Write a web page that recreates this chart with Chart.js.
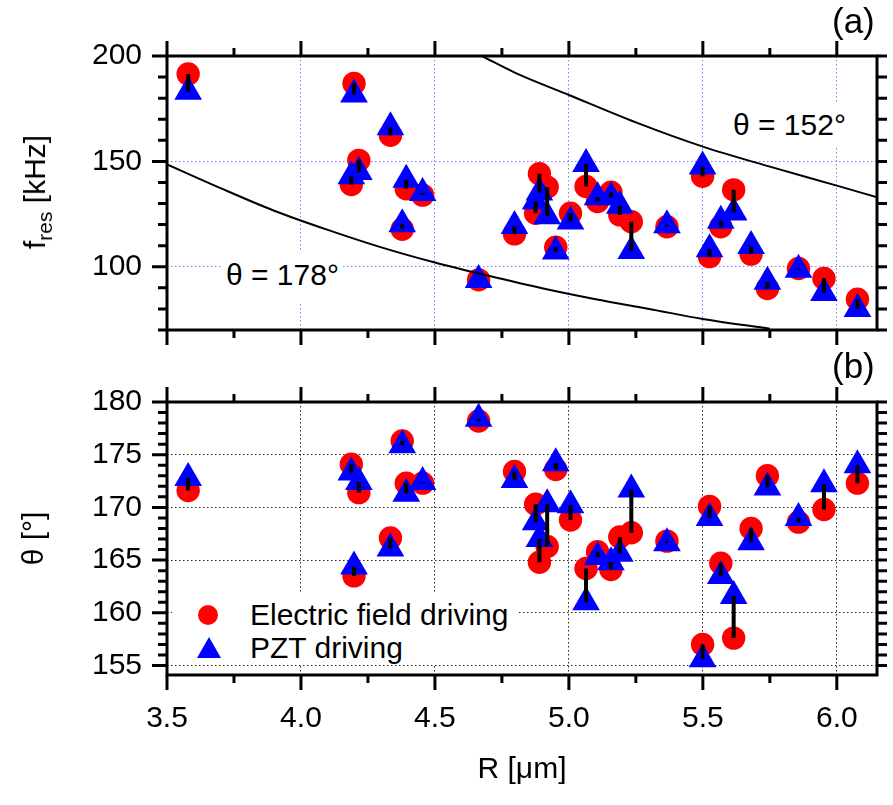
<!DOCTYPE html>
<html>
<head>
<meta charset="utf-8">
<script src="https://cdn.jsdelivr.net/npm/chart.js@4.4.0/dist/chart.umd.min.js"></script>
<style>
  html, body { margin: 0; padding: 0; background: #fff; }
  body { width: 893px; height: 805px; position: relative; overflow: hidden;
         font-family: "Liberation Sans", Arial, sans-serif; color: #000; }
  canvas { position: absolute; left: 0; }
  #chartA { top: 0; }
  #chartB { top: 345px; }
  .lbl { position: absolute; font-size: 30px; line-height: 30px; white-space: nowrap; }
  .box { background: #fff; }
  #ytitleA { left: 35px; top: 192px; transform: translate(-50%, -50%) rotate(-90deg); }
  #ytitleA sub { font-size: 21px; vertical-align: -7px; line-height: 0; }
  #tagA { left: 832px; top: 3px; font-size: 35px; line-height: 35px; }
  #tagB { left: 832px; top: 348px; font-size: 35px; line-height: 35px; }
  #ann178 { left: 222px; top: 252px; padding: 8px 4px 12px 4px; }
  #ann152 { left: 728px; top: 102px; padding: 8px 5px 8px 5px; }
  #legend { position: absolute; left: 172px; top: 592px; width: 345px; height: 73px; background: #fff; }
  #legend .dot { position: absolute; left: 26px; top: 13px; width: 20px; height: 20px; border-radius: 50%; background: #ff0000; }
  #legend .tri { position: absolute; left: 25px; top: 45px; width: 0; height: 0;
                 border-left: 12px solid transparent; border-right: 12px solid transparent; border-bottom: 21px solid #0000ff; }
  #legend .t1 { left: 78px; top: 8px; }
  #legend .t2 { left: 78px; top: 41px; }
</style>
</head>
<body>
<canvas id="chartA" width="893" height="390"></canvas>
<canvas id="chartB" width="893" height="460"></canvas>
<div class="lbl" id="ytitleA">f<sub>res</sub> [kHz]</div>
<div class="lbl" id="tagA">(a)</div>
<div class="lbl" id="tagB">(b)</div>
<div class="lbl box" id="ann178">θ = 178°</div>
<div class="lbl box" id="ann152">θ = 152°</div>
<div id="legend">
  <div class="dot"></div>
  <div class="lbl t1">Electric field driving</div>
  <div class="tri"></div>
  <div class="lbl t2">PZT driving</div>
</div>
<script>
// one entry per sample
const radius = [3.579, 4.188, 4.198, 4.216, 4.334, 4.378, 4.393, 4.454, 4.663, 4.797,
  4.876, 4.890, 4.919, 4.951, 5.006, 5.064, 5.107, 5.157, 5.190, 5.233,
  5.366, 5.499, 5.525, 5.567, 5.615, 5.680, 5.741, 5.857, 5.952, 6.077];
const fElectric = [191.5, 139.0, 187.0, 150.5, 162.4, 117.8, 137.0, 134.0, 93.8, 115.6,
  125.4, 144.1, 137.8, 109.3, 125.4, 138.1, 131.0, 135.4, 124.6, 121.4,
  119.0, 142.9, 104.8, 119.0, 136.5, 106.0, 89.7, 99.2, 94.4, 84.6];
const fPzt = [183.0, 143.0, 181.7, 145.0, 166.2, 120.2, 141.3, 135.0, 93.7, 119.4,
  131.0, 135.2, 124.0, 107.3, 121.5, 148.8, 133.0, 133.0, 129.0, 107.5,
  119.7, 147.6, 108.3, 121.8, 125.7, 109.9, 92.9, 98.6, 87.6, 80.0];
const thetaElectric = [171.6, 174.1, 163.5, 171.4, 167.1, 176.3, 172.3, 172.3, 178.2, 173.4,
  170.3, 164.8, 166.3, 173.6, 168.8, 164.2, 165.8, 164.1, 167.2, 167.6,
  166.8, 157.0, 170.1, 164.7, 157.6, 168.0, 173.0, 168.6, 169.8, 172.3];
const thetaPzt = [172.8, 173.3, 164.4, 172.4, 166.1, 175.9, 171.3, 172.4, 178.4, 172.6,
  168.6, 167.0, 170.3, 174.2, 170.2, 161.0, 165.3, 164.8, 165.6, 171.7,
  166.6, 155.6, 169.0, 163.5, 161.6, 166.7, 171.9, 169.0, 172.2, 174.0];

// guide curves in panel (a)
const curve178R = [3.5, 3.7, 3.9, 4.1, 4.3, 4.5, 4.7, 4.9, 5.1, 5.3, 5.5, 5.75];
const curve178F = [148.6, 137.3, 126.6, 117.5, 109.2, 102.0, 95.7, 89.8, 84.6, 80.0, 75.2, 70.6];
const curve152R = [4.675, 4.8, 5.0, 5.25, 5.5, 5.75, 6.0, 6.15];
const curve152F = [200.0, 192.0, 181.5, 168.5, 157.0, 147.5, 138.5, 133.0];

// tick labels
const xTicks = [3.5, 4.0, 4.5, 5.0, 5.5, 6.0];
const fTicks = [100, 150, 200];
const thetaTicks = [155, 160, 165, 170, 175, 180];

const FONT = '"Liberation Sans", Arial, sans-serif';
Chart.defaults.font.family = FONT;
Chart.defaults.color = '#000';

const pts = (xs, ys) => xs.map((x, i) => ({ x: x, y: ys[i] }));

// frame, tick marks and the black bars joining the two drivings
function decor(lo, hi, yStep, yMajor) {
  return {
    id: 'decor',
    afterDatasetsDraw(chart) {
      const { ctx, chartArea: a, scales: { x, y } } = chart;
      ctx.save();
      ctx.beginPath();
      ctx.rect(a.left, a.top, a.right - a.left, a.bottom - a.top);
      ctx.clip();
      ctx.strokeStyle = '#000';
      ctx.lineWidth = 4;
      ctx.beginPath();
      radius.forEach((r, i) => {
        const px = x.getPixelForValue(r);
        ctx.moveTo(px, y.getPixelForValue(lo[i]));
        ctx.lineTo(px, y.getPixelForValue(hi[i]));
      });
      ctx.stroke();
      ctx.restore();
    },
    afterDraw(chart) {
      const { ctx, chartArea: a, scales: { x, y } } = chart;
      ctx.save();
      ctx.strokeStyle = '#000';
      ctx.lineWidth = 3;
      ctx.beginPath();
      for (let k = 0; ; k++) {
        const v = x.min + k * 0.25;
        if (v > x.max + 1e-9) break;
        const px = x.getPixelForValue(v);
        const L = k % 2 === 0 ? 15 : 8;
        ctx.moveTo(px, a.top); ctx.lineTo(px, a.top - L);
        ctx.moveTo(px, a.bottom); ctx.lineTo(px, a.bottom + L);
      }
      for (let v = Math.ceil(y.min / yStep) * yStep; v <= y.max + 1e-9; v += yStep) {
        const py = y.getPixelForValue(v);
        const L = v % yMajor === 0 ? 15 : 9;
        ctx.moveTo(a.left, py); ctx.lineTo(a.left - L, py);
        ctx.moveTo(a.right, py); ctx.lineTo(a.right + 10, py);
      }
      ctx.stroke();
      ctx.strokeRect(a.left, a.top, a.right - a.left, a.bottom - a.top);
      ctx.restore();
    }
  };
}

function panel(id, opt) {
  return new Chart(document.getElementById(id), {
    type: 'scatter',
    data: { datasets: opt.datasets },
    options: {
      responsive: false,
      animation: false,
      devicePixelRatio: 1,
      layout: { padding: 0 },
      plugins: { legend: { display: false }, tooltip: { enabled: false } },
      scales: {
        x: {
          type: 'linear', position: 'bottom', min: 3.5, max: 6.15,
          afterBuildTicks: s => { s.ticks = xTicks.map(v => ({ value: v })); },
          ticks: { display: opt.xLabels, padding: 26, font: { size: 30 }, callback: v => v.toFixed(1) },
          grid: { color: opt.gridColor, lineWidth: 1, drawTicks: false },
          border: { display: false, dash: [1.5, 2.5] },
          title: { display: opt.xLabels, text: 'R [μm]', font: { size: 30 }, padding: { top: 0, bottom: 17 } },
          afterFit: s => { s.height = opt.bottomH; }
        },
        xTop: {
          type: 'linear', position: 'top', min: 3.5, max: 6.15,
          ticks: { display: false }, grid: { display: false }, border: { display: false },
          afterFit: s => { s.height = opt.topH; }
        },
        y: {
          type: 'linear', position: 'left', min: opt.yMin, max: opt.yMax,
          afterBuildTicks: s => { s.ticks = opt.yTicks.map(v => ({ value: v })); },
          ticks: { padding: 25, font: { size: 30 }, callback: v => String(v) },
          grid: { color: opt.gridColor, lineWidth: 1, drawTicks: false },
          border: { display: false, dash: [1.5, 2.5] },
          title: { display: !!opt.yTitle, text: opt.yTitle || '', font: { size: 30 }, padding: { top: 17, bottom: 0 } },
          afterFit: s => { s.width = 167; }
        },
        yRight: {
          type: 'linear', position: 'right', min: opt.yMin, max: opt.yMax,
          ticks: { display: false }, grid: { display: false }, border: { display: false },
          afterFit: s => { s.width = 10; }
        }
      }
    },
    plugins: [decor(opt.lo, opt.hi, opt.yStep, opt.yMajor)]
  });
}

const markerSets = (red, blue) => [
  { label: 'Electric field driving', data: pts(radius, red), order: 3, clip: false,
    pointStyle: 'circle', pointRadius: 11.7, backgroundColor: '#ff0000', borderWidth: 0 },
  { label: 'PZT driving', data: pts(radius, blue), order: 2, clip: false,
    pointStyle: 'triangle', pointRadius: 16, backgroundColor: '#0000ff', borderWidth: 0 }
];

const curveSet = (xs, ys) => ({
  type: 'line', data: pts(xs, ys), order: 1, showLine: true, pointRadius: 0,
  borderColor: '#000', borderWidth: 2, fill: false, cubicInterpolationMode: 'monotone'
});

// canvas A is 390 tall; its lower 60 px sit under canvas B and only hold the bottom ticks
panel('chartA', {
  datasets: markerSets(fElectric, fPzt).concat([curveSet(curve178R, curve178F), curveSet(curve152R, curve152F)]),
  yMin: 70, yMax: 200, yTicks: fTicks, yStep: 10, yMajor: 50,
  topH: 56, bottomH: 60, xLabels: false,
  gridColor: '#7f7fff', lo: fElectric, hi: fPzt
});

panel('chartB', {
  datasets: markerSets(thetaElectric, thetaPzt),
  yMin: 154.1, yMax: 180, yTicks: thetaTicks, yStep: 1, yMajor: 5,
  topH: 57, bottomH: 130, xLabels: true, yTitle: 'θ [°]',
  gridColor: '#222', lo: thetaElectric, hi: thetaPzt
});
</script>
</body>
</html>
